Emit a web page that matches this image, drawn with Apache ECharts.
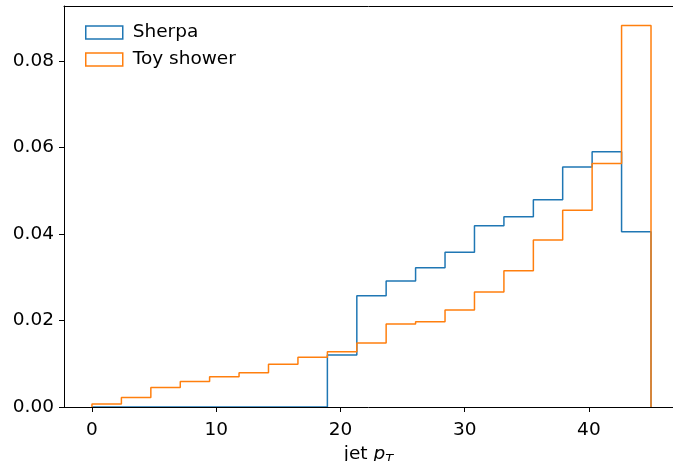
<!DOCTYPE html>
<html>
<head>
<meta charset="utf-8">
<script src="https://cdn.jsdelivr.net/npm/echarts@6/dist/echarts.min.js"></script>
<style>
html,body{margin:0;padding:0;background:#fff;}
#chart{width:673px;height:461px;}
</style>
</head>
<body>
<div id="chart"></div>
<script>
// Histogram bin edges (19 bins from 0 to 45)
const binEdges = [0, 2.37, 4.74, 7.11, 9.47, 11.84, 14.21, 16.58, 18.95, 21.32, 23.68, 26.05, 28.42, 30.79, 33.16, 35.53, 37.89, 40.26, 42.63, 45];
const sherpaValues = [0, 0, 0, 0, 0, 0, 0, 0, 0.0120, 0.0257, 0.0291, 0.0322, 0.0358, 0.0419, 0.0440, 0.0479, 0.0555, 0.0590, 0.0405];
const toyValues = [0.0007, 0.0022, 0.0045, 0.0059, 0.0070, 0.0079, 0.0099, 0.0115, 0.0128, 0.0148, 0.0192, 0.0197, 0.0224, 0.0266, 0.0315, 0.0386, 0.0455, 0.0563, 0.0882];
const xTicks = [0, 10, 20, 30, 40];
const yTicks = [0, 0.02, 0.04, 0.06, 0.08];
const seriesNames = ['Sherpa', 'Toy shower'];
const colors = ['#1f77b4', '#ff7f0e'];

function stepData(values) {
  const pts = [[binEdges[0], 0]];
  for (let i = 0; i < values.length; i++) pts.push([binEdges[i], values[i]]);
  pts.push([binEdges[binEdges.length - 1], 0]);
  return pts;
}

const FONT = 'DejaVu Sans';
const FS = 18.5;
const chart = echarts.init(document.getElementById('chart'), null, {renderer: 'canvas'});
chart.setOption({
  animation: false,
  backgroundColor: '#fff',
  grid: {left: 64, right: 0, top: 6, bottom: 54, show: false, outerBoundsMode: 'none', containLabel: false},
  legend: {
    left: 80, top: 18, orient: 'vertical', icon: 'rect',
    itemWidth: 37, itemHeight: 13, itemGap: 8,
    textStyle: {fontFamily: FONT, fontSize: FS, color: '#000', padding: [0, 0, 0, 5]},
    data: seriesNames.map((n, i) => ({name: n, itemStyle: {color: 'rgba(255,255,255,0)', borderColor: colors[i], borderWidth: 1.5}}))
  },
  xAxis: [{
    type: 'value', min: -2.25, max: 46.77, z: 10, position: 'bottom',
    name: '{a|jet }{b|p}{c|T}', nameLocation: 'middle', nameGap: 33,
    nameTextStyle: {rich: {
      a: {fontFamily: FONT, fontSize: FS, color: '#000'},
      b: {fontFamily: FONT, fontSize: FS, fontStyle: 'italic', color: '#000'},
      c: {fontFamily: FONT, fontSize: 13, fontStyle: 'italic', color: '#000', verticalAlign: 'bottom', padding: [10, 0, 0, 0]}
    }},
    axisLine: {show: true, onZero: false, lineStyle: {color: '#000', width: 1}},
    axisTick: {show: true, length: 5, lineStyle: {color: '#000', width: 1}, customValues: xTicks},
    axisLabel: {fontFamily: FONT, fontSize: FS, color: '#000', margin: 14, customValues: xTicks, formatter: v => String(v)},
    splitLine: {show: false}
  }, {
    type: 'value', min: -2.25, max: 46.77, z: 10, position: 'top',
    axisLine: {show: true, onZero: false, lineStyle: {color: '#000', width: 1}},
    axisTick: {show: false}, axisLabel: {show: false}, splitLine: {show: false}
  }],
  yAxis: {
    type: 'value', min: 0, max: 0.0927, z: 10,
    axisLine: {show: true, onZero: false, lineStyle: {color: '#000', width: 1}},
    axisTick: {show: true, length: 5, lineStyle: {color: '#000', width: 1}, customValues: yTicks},
    axisLabel: {fontFamily: FONT, fontSize: FS, color: '#000', margin: 10, customValues: yTicks, formatter: v => v.toFixed(2)},
    splitLine: {show: false}
  },
  series: [
    {name: seriesNames[0], type: 'line', step: 'end', symbol: 'none', data: stepData(sherpaValues),
     itemStyle: {color: colors[0]}, lineStyle: {color: colors[0], width: 1.5}},
    {name: seriesNames[1], type: 'line', step: 'end', symbol: 'none', data: stepData(toyValues),
     itemStyle: {color: colors[1]}, lineStyle: {color: colors[1], width: 1.5}}
  ]
});
</script>
</body>
</html>
